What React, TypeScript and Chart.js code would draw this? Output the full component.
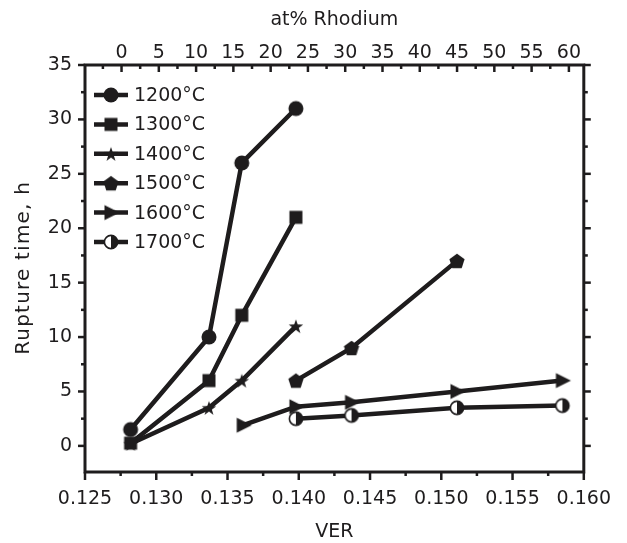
import React, { useEffect, useRef } from 'react';
import { Chart, registerables } from 'chart.js';

Chart.register(...registerables);

// ---------- data ----------
const seriesLabels = ['1200°C', '1300°C', '1400°C', '1500°C', '1600°C', '1700°C'];
const markerKinds = ['circle', 'square', 'star', 'pentagon', 'triangle', 'half'];

const verLow = [0.1282, 0.1337, 0.136, 0.1398];
const rupture1200 = [1.5, 10.0, 26.0, 31.0];
const rupture1300 = [0.25, 6.0, 12.0, 21.0];
const rupture1400 = [0.2, 3.5, 6.0, 11.0];
const ver1500 = [0.1398, 0.1437, 0.1511];
const rupture1500 = [6.0, 9.0, 17.0];
const ver1600 = [0.1361, 0.1398, 0.1437, 0.1511, 0.1585];
const rupture1600 = [1.9, 3.6, 4.0, 5.0, 6.0];
const ver1700 = [0.1398, 0.1437, 0.1511, 0.1585];
const rupture1700 = [2.5, 2.8, 3.5, 3.7];

const verTicks = [0.125, 0.13, 0.135, 0.14, 0.145, 0.15, 0.155, 0.16];
const rhodiumTicks = [0, 5, 10, 15, 20, 25, 30, 35, 40, 45, 50, 55, 60];
const ruptureTicks = [0, 5, 10, 15, 20, 25, 30, 35];

const xTitle = 'VER';
const topTitle = 'at% Rhodium';
const yTitle = 'Rupture time, h';

const INK = '#1e1c1d';
const FONT_FAMILY = '"DejaVu Sans", Verdana, sans-serif';
const FONT_SIZE = 19;

function pairs(xs: number[], ys: number[]) {
  return xs.map((x, i) => ({ x, y: ys[i] }));
}

function makeMarker(kind: string): HTMLCanvasElement {
  const s = 22;
  const c = document.createElement('canvas');
  c.width = s;
  c.height = s;
  const g = c.getContext('2d') as CanvasRenderingContext2D;
  const m = s / 2;
  g.fillStyle = INK;
  g.strokeStyle = INK;
  g.beginPath();
  if (kind === 'circle') {
    g.arc(m, m, 7.5, 0, Math.PI * 2);
    g.fill();
  } else if (kind === 'square') {
    g.fillRect(m - 6.5, m - 6.5, 13, 13);
  } else if (kind === 'star') {
    const R = 7.6, r = 3.0;
    for (let i = 0; i < 10; i++) {
      const rad = i % 2 === 0 ? R : r;
      const a = -Math.PI / 2 + (i * Math.PI) / 5;
      const px = m + rad * Math.cos(a), py = m + 0.8 + rad * Math.sin(a);
      if (i === 0) g.moveTo(px, py); else g.lineTo(px, py);
    }
    g.closePath();
    g.fill();
  } else if (kind === 'pentagon') {
    const R = 8;
    for (let i = 0; i < 5; i++) {
      const a = -Math.PI / 2 + (i * 2 * Math.PI) / 5;
      const px = m + R * Math.cos(a), py = m + 0.8 + R * Math.sin(a);
      if (i === 0) g.moveTo(px, py); else g.lineTo(px, py);
    }
    g.closePath();
    g.fill();
  } else if (kind === 'triangle') {
    g.moveTo(m - 6.5, m - 7.5);
    g.lineTo(m + 8.5, m);
    g.lineTo(m - 6.5, m + 7.5);
    g.closePath();
    g.fill();
  } else if (kind === 'half') {
    g.fillStyle = '#ffffff';
    g.arc(m, m, 6.6, 0, Math.PI * 2);
    g.fill();
    g.beginPath();
    g.fillStyle = INK;
    g.arc(m, m, 6.6, -Math.PI / 2, Math.PI / 2);
    g.closePath();
    g.fill();
    g.beginPath();
    g.lineWidth = 1.6;
    g.arc(m, m, 6.6, 0, Math.PI * 2);
    g.stroke();
  }
  return c;
}

export default function App() {
  const canvasRef = useRef<HTMLCanvasElement | null>(null);

  useEffect(() => {
    const canvas = canvasRef.current;
    if (!canvas) return;
    const markers = markerKinds.map(makeMarker);
    const font = { family: FONT_FAMILY, size: FONT_SIZE };

    const seriesData = [
      pairs(verLow, rupture1200),
      pairs(verLow, rupture1300),
      pairs(verLow, rupture1400),
      pairs(ver1500, rupture1500),
      pairs(ver1600, rupture1600),
      pairs(ver1700, rupture1700),
    ];

    const axisFrame = {
      id: 'axisFrame',
      afterDraw(chart: any) {
        const { ctx, chartArea: a, scales } = chart;
        const xs = scales.x, xt = scales.x2, ys = scales.y;
        ctx.save();
        ctx.strokeStyle = INK;
        ctx.lineCap = 'butt';
        const seg = (x1: number, y1: number, x2: number, y2: number) => {
          ctx.beginPath();
          ctx.moveTo(x1, y1);
          ctx.lineTo(x2, y2);
          ctx.stroke();
        };
        ctx.lineWidth = 2.5;
        // bottom ticks (outward)
        verTicks.forEach((v, i) => {
          const p = xs.getPixelForValue(v);
          seg(p, a.bottom, p, a.bottom + 8);
          if (i < verTicks.length - 1) {
            const q = xs.getPixelForValue((v + verTicks[i + 1]) / 2);
            seg(q, a.bottom, q, a.bottom + 4);
          }
        });
        // top ticks (inward)
        const topMinor = [-2.5].concat(rhodiumTicks.slice(0, -1).map((v) => v + 2.5));
        rhodiumTicks.forEach((v) => {
          const p = xt.getPixelForValue(v);
          seg(p, a.top, p, a.top + 7);
        });
        topMinor.forEach((v) => {
          const p = xt.getPixelForValue(v);
          seg(p, a.top, p, a.top + 4);
        });
        // left & right ticks (outward)
        ruptureTicks.forEach((v, i) => {
          const p = ys.getPixelForValue(v);
          seg(a.left - 7, p, a.left, p);
          seg(a.right, p, a.right + 7, p);
          if (i < ruptureTicks.length - 1) {
            const q = ys.getPixelForValue(v + 2.5);
            seg(a.left - 4, q, a.left, q);
            seg(a.right, q, a.right + 4, q);
          }
        });
        // frame
        ctx.lineWidth = 3;
        ctx.strokeRect(a.left, a.top, a.right - a.left, a.bottom - a.top);

        // y title
        ctx.fillStyle = INK;
        ctx.font = `20px ${FONT_FAMILY}`;
        const spacing = 1.2;
        (ctx as any).letterSpacing = `${spacing}px`;
        ctx.save();
        ctx.translate(24, (a.top + a.bottom) / 2);
        ctx.rotate(-Math.PI / 2);
        ctx.textAlign = 'center';
        ctx.textBaseline = 'middle';
        ctx.fillText(yTitle, spacing / 2, 0);
        ctx.restore();
        (ctx as any).letterSpacing = '0px';

        // legend
        const lx0 = a.left + 9, lx1 = a.left + 43, mx = a.left + 26, tx = a.left + 49;
        const rowY0 = a.top + 30, rowStep = 29.4;
        ctx.font = `${FONT_SIZE}px ${FONT_FAMILY}`;
        ctx.textBaseline = 'middle';
        ctx.textAlign = 'left';
        ctx.fillStyle = INK;
        seriesLabels.forEach((lab, i) => {
          const yy = rowY0 + i * rowStep;
          ctx.lineWidth = 4.5;
          seg(lx0, yy, lx1, yy);
          const mk = markers[i];
          ctx.drawImage(mk, mx - mk.width / 2, yy - mk.height / 2);
          ctx.fillText(lab, tx, yy + 1);
        });
        ctx.restore();
      },
    };

    const chart = new Chart(canvas, {
      type: 'line',
      data: {
        datasets: seriesData.map((d, i) => ({
          label: seriesLabels[i],
          data: d,
          borderColor: INK,
          backgroundColor: INK,
          borderWidth: 4.5,
          pointStyle: markers[i] as any,
          pointRadius: 7,
          pointHoverRadius: 7,
          tension: 0,
          fill: false,
        })),
      },
      options: {
        responsive: false,
        animation: false,
        events: [],
        layout: { padding: { left: 0, right: 36, top: 0, bottom: 0 } },
        plugins: { legend: { display: false }, tooltip: { enabled: false } },
        scales: {
          x: {
            type: 'linear',
            position: 'bottom',
            min: 0.125,
            max: 0.16,
            afterBuildTicks: (s: any) => {
              s.ticks = verTicks.map((v) => ({ value: v }));
            },
            afterFit: (s: any) => {
              s.height = 71;
            },
            grid: { display: false, drawTicks: false },
            border: { display: false },
            ticks: {
              padding: 16,
              color: INK,
              font,
              autoSkip: false,
              maxRotation: 0,
              callback: (v: any) => Number(v).toFixed(3),
            },
            title: { display: true, text: xTitle, color: INK, font, padding: { top: 0, bottom: 0 } },
          },
          x2: {
            type: 'linear',
            position: 'top',
            min: -4.9,
            max: 62,
            afterBuildTicks: (s: any) => {
              s.ticks = rhodiumTicks.map((v) => ({ value: v }));
            },
            afterFit: (s: any) => {
              s.height = 65;
            },
            grid: { display: false, drawTicks: false },
            border: { display: false },
            ticks: {
              padding: 1,
              color: INK,
              font,
              autoSkip: false,
              maxRotation: 0,
              callback: (v: any) => String(v),
            },
            title: { display: true, text: topTitle, color: INK, font, padding: { top: 9, bottom: 0 } },
          },
          y: {
            type: 'linear',
            position: 'left',
            min: -2.4,
            max: 35,
            afterBuildTicks: (s: any) => {
              s.ticks = ruptureTicks.map((v) => ({ value: v }));
            },
            afterFit: (s: any) => {
              s.width = 85;
            },
            grid: { display: false, drawTicks: false },
            border: { display: false },
            ticks: { padding: 13, color: INK, font, callback: (v: any) => String(v) },
            title: { display: false },
          },
        },
      },
      plugins: [axisFrame],
    } as any);

    return () => chart.destroy();
  }, []);

  return (
    <div style={{ position: 'fixed', left: 0, top: 0, width: 627, height: 543, background: '#fff' }}>
      <canvas ref={canvasRef} width={627} height={543} />
    </div>
  );
}
